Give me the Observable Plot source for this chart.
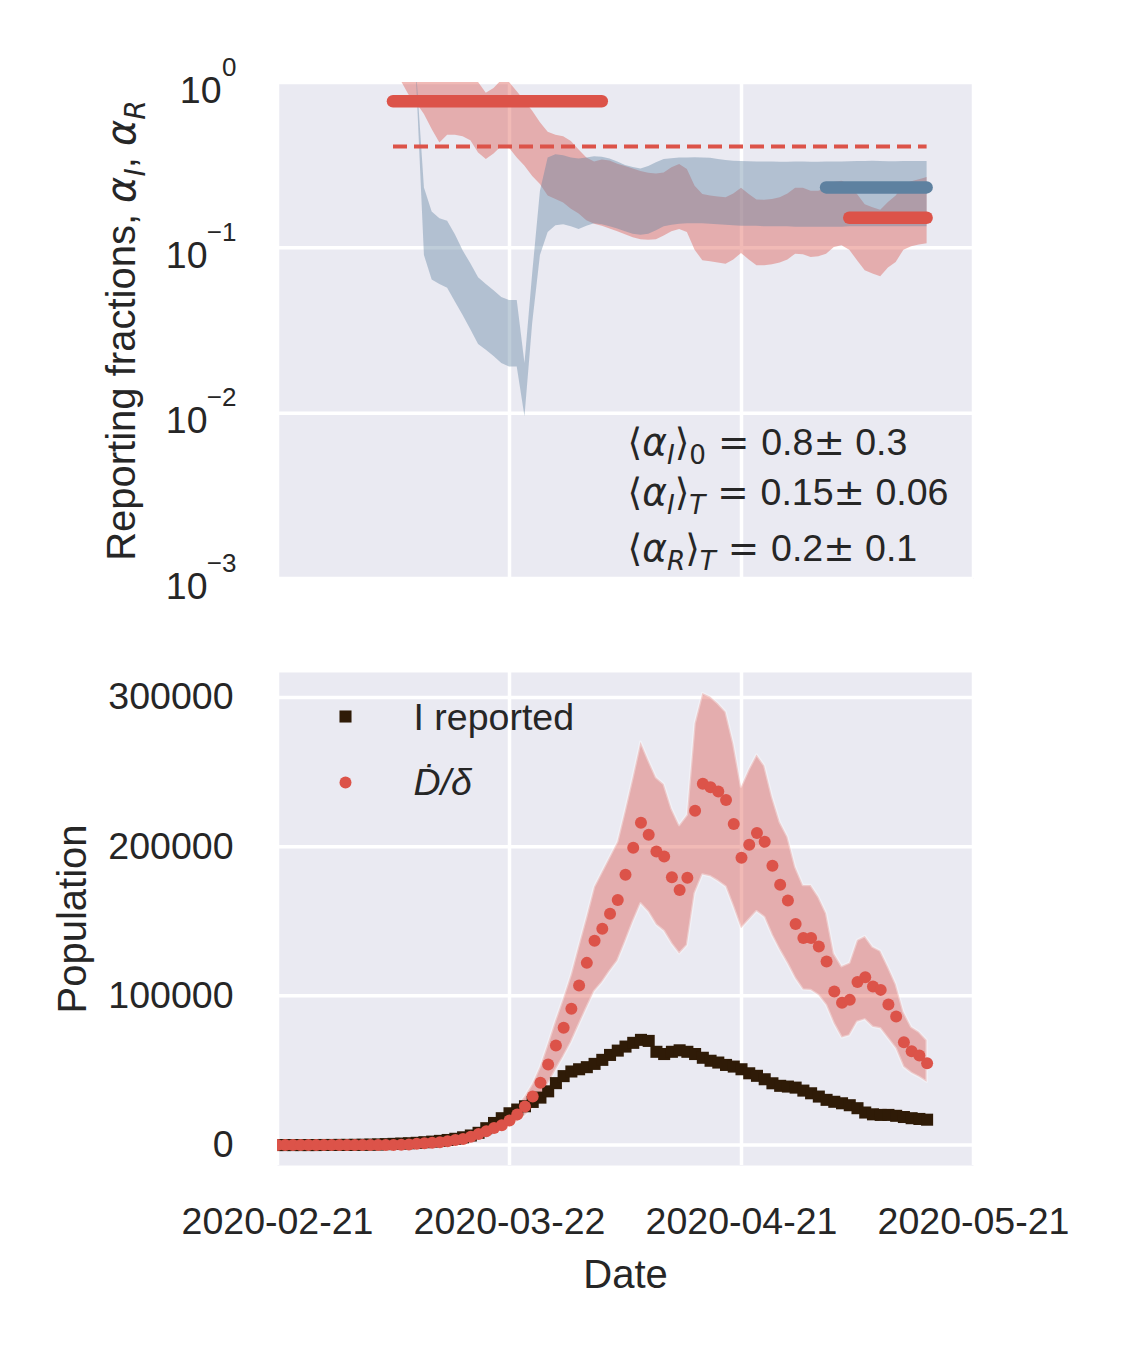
<!DOCTYPE html>
<html><head><meta charset="utf-8">
<script src="https://cdn.jsdelivr.net/npm/d3@7"></script>
<script src="https://cdn.jsdelivr.net/npm/@observablehq/plot@0.6"></script>
<style>
body{margin:0;background:#fff;}
#fig{position:relative;width:1125px;height:1350px;background:#fff;}
#fig svg{position:absolute;left:0;overflow:visible;}
</style></head><body><div id="fig"></div>
<script>
// ---------- data ----------
const startDay = [2020, 1, 21];                 // 2020-02-21 = day 0
const xTickLabels = ["2020-02-21","2020-03-22","2020-04-21","2020-05-21"];
const xDomainDays = [0, 90];

// top panel: reporting fractions (log scale)
const topTicks = [1, 0.1, 0.01, 0.001];
const topTickExponents = ["0", "\u22121", "\u22122", "\u22123"];
const alphaIStart = 16;   // first day of alpha_I band
const alphaI_lo = [1.02,0.84,0.75,0.64,0.52,0.43,0.48,0.48,0.47,0.445,
  0.375,0.342,0.37,0.41,0.40,0.35,0.312,0.27,0.242,0.206,
  0.196,0.187,0.171,0.16,0.146,0.139,0.135,0.13,0.125,0.12,
  0.115,0.112,0.111,0.112,0.118,0.125,0.129,0.124,0.0968,0.0835,
  0.0824,0.081,0.0797,0.0843,0.0925,0.0843,0.078,0.078,0.079,0.081,
  0.0843,0.0916,0.0908,0.0875,0.0883,0.0916,0.1005,0.103,0.0968,0.0835,
  0.0727,0.0694,0.0668,0.0755,0.0816,0.0968,0.1014,0.104,0.106];
const alphaI_hi = [2.6,2.4,2.2,2.0,1.8,1.6,1.55,1.45,1.3,1.15,
  1.0,0.86,0.92,1.03,1.0,0.88,0.77,0.67,0.57,0.50,
  0.48,0.47,0.44,0.39,0.35,0.33,0.34,0.335,0.32,0.31,
  0.30,0.29,0.283,0.28,0.284,0.305,0.319,0.298,0.236,0.21,
  0.206,0.203,0.201,0.212,0.229,0.21,0.195,0.194,0.196,0.201,
  0.212,0.229,0.229,0.22,0.22,0.229,0.248,0.253,0.24,0.21,
  0.182,0.175,0.169,0.188,0.206,0.24,0.251,0.258,0.266];
const alphaRStart = 18;   // first day of alpha_R band
const alphaR_lo = [1.0,0.09,0.064,0.06,0.057,0.047,0.039,0.032,0.026,0.024,
  0.022,0.02,0.019,0.019,0.0095,0.035,0.09,0.124,0.136,0.138,
  0.134,0.129,0.135,0.14,0.138,0.134,0.13,0.125,0.121,0.119,
  0.121,0.127,0.134,0.137,0.139,0.14,0.14,0.14,0.139,0.138,
  0.137,0.136,0.135,0.135,0.135,0.134,0.134,0.134,0.134,0.133,
  0.133,0.133,0.133,0.133,0.133,0.133,0.134,0.134,0.134,0.134,
  0.134,0.134,0.134,0.134,0.134,0.134,0.134];
const alphaR_hi = [1.15,0.23,0.165,0.15,0.145,0.12,0.096,0.08,0.066,0.06,
  0.055,0.05,0.048,0.048,0.02,0.07,0.22,0.35,0.365,0.36,
  0.35,0.345,0.35,0.355,0.353,0.345,0.33,0.315,0.306,0.30,
  0.31,0.327,0.342,0.346,0.35,0.35,0.351,0.35,0.348,0.342,
  0.337,0.334,0.333,0.332,0.331,0.33,0.33,0.329,0.329,0.33,
  0.33,0.329,0.329,0.33,0.33,0.331,0.332,0.333,0.333,0.334,
  0.333,0.332,0.332,0.333,0.333,0.333,0.333];
const meanAlphaI0 = {value: 0.77, from: 15, to: 42};
const meanAlphaIT = {value: 0.152, from: 74, to: 84};
const meanAlphaRT = {value: 0.232, from: 71, to: 84};
const dashedAlphaI = {value: 0.41, from: 15, to: 84};
const annotLines = [
  "\u27E8\u03B1I\u27E90 = 0.8\u00B1 0.3",
  "\u27E8\u03B1I\u27E9T = 0.15\u00B1 0.06",
  "\u27E8\u03B1R\u27E9T = 0.2\u00B1 0.1"];

// bottom panel: population, days 0..84
const popTicks = [0, 100000, 200000, 300000];
const iReported = [0,0,0,0,0,0,
  50,50,100,100,150,200,
  300,400,600,800,1000,1200,
  1500,1900,2300,2800,3400,4200,
  5200,6400,8200,11300,14800,18000,
  21300,23800,26000,28900,31800,36000,
  41500,46200,49300,50800,52200,54400,
  57100,60400,63300,66000,68500,70500,
  69800,62500,61000,62500,63500,62500,
  61000,58500,56500,55300,53700,52600,
  50800,48100,46400,44100,41400,39700,
  39200,38500,36500,34700,32500,30300,
  29000,28000,26700,24700,21800,20600,
  20200,20200,19600,18800,18000,17500,
  17000];
const dDotOverDelta = [0,0,0,0,0,0,
  0,0,0,0,0,0,
  0,0,0,100,200,400,
  800,1200,1500,1900,2600,3400,
  4100,5600,7400,9300,11500,13200,
  16500,20500,25800,32600,41800,54000,
  66700,78600,91300,106900,122100,136900,
  144900,155000,164300,181200,199200,216000,
  208000,196700,193400,179500,171000,179100,
  224100,242100,239800,236900,231300,215200,
  192500,201300,209200,203200,187200,174500,
  163900,148200,138800,138800,133000,123000,
  102900,95300,97300,109200,112500,106200,
  104000,94200,86100,68900,62900,60000,
  54800];
const dBandUpper = [0,0,0,0,0,0,
  0,0,0,0,0,0,
  0,0,0,130,250,500,
  1000,1500,1900,2400,3200,4300,
  5100,7000,9200,11600,14400,16500,
  20600,25600,32300,40800,52300,67500,
  83400,98300,114100,133600,152600,172800,
  182900,192900,203000,224200,246500,270000,
  257700,246100,241600,225300,214100,221000,
  282300,302600,300200,295700,290100,268800,
  240000,251500,261400,254000,233100,216300,
  206300,186200,173900,173900,166100,155000,
  128200,119600,121900,137100,139700,132600,
  129900,119200,107600,89000,79000,75600,
  70000];
const dBandLower = [0,0,0,0,0,0,
  0,0,0,0,0,0,
  0,0,0,75,150,300,
  600,900,1100,1400,1950,2550,
  3100,4200,5500,7000,8600,9900,
  12400,15400,19400,24500,31400,40500,
  50000,59000,68500,80200,91600,102700,
  108700,116300,123200,135900,149400,161600,
  156000,147500,143300,134800,128100,133700,
  168400,181000,179800,176700,173000,159400,
  144900,150700,156400,152500,140400,130400,
  121400,111400,104000,103600,100200,93500,
  81200,71800,73200,82300,83900,79000,
  77900,71200,64500,52200,48100,45400,
  42100];
const legendLabels = ["I reported", "\u1E0A/\u03B4"];

// ---------- helpers ----------
const day0 = Date.UTC(startDay[0], startDay[1], startDay[2]);
const dateOf = d => new Date(day0 + d * 864e5);
const xTicks = xTickLabels.map(s => new Date(s + "T00:00:00Z"));
const fmt = d3.utcFormat("%Y-%m-%d");

const RED = "#dc5349", BLUE = "#5e81a0", DARK = "#2f1b07", INK = "#262626", BG = "#eaeaf2";
const FONT = "'Liberation Sans', Arial, 'DejaVu Sans', sans-serif";
const MATH = "'DejaVu Sans', sans-serif";
const TICK = 37.5, LABEL = 40;

const redBand = alphaI_lo.map((lo, i) => ({date: dateOf(alphaIStart + i), lo, hi: alphaI_hi[i]}));
const blueBand = alphaR_lo.map((lo, i) => ({date: dateOf(alphaRStart + i), lo, hi: alphaR_hi[i]}));
const pop = iReported.map((v, i) => ({date: dateOf(i), rep: v, dd: dDotOverDelta[i], lo: dBandLower[i], hi: dBandUpper[i]}));
const topTickRows = topTicks.map((v, i) => ({v, e: topTickExponents[i]}));

const x1 = d => dateOf(d.from), x2 = d => dateOf(d.to);
const grid = {stroke: "white", strokeOpacity: 1, strokeWidth: 3.5};

// ---------- top panel ----------
const topPlot = Plot.plot({
  width: 1125, height: 600,
  marginLeft: 277, marginRight: 152, marginTop: 82, marginBottom: 22,
  style: {fontFamily: FONT, color: INK, background: "transparent", overflow: "visible"},
  x: {type: "utc", domain: xDomainDays.map(dateOf), axis: null},
  y: {type: "log", domain: [1e-3, 1], axis: null},
  marks: [
    Plot.frame({fill: BG, stroke: "none"}),
    Plot.gridY(topTicks, grid),
    Plot.gridX(xTicks, grid),
    Plot.areaY(redBand, {x: "date", y1: "lo", y2: "hi", fill: RED, fillOpacity: 0.4, clip: true}),
    Plot.areaY(blueBand, {x: "date", y1: "lo", y2: "hi", fill: BLUE, fillOpacity: 0.4, clip: true}),
    Plot.ruleY([dashedAlphaI], {y: "value", x1, x2, stroke: RED, strokeWidth: 4, strokeDasharray: "14,7"}),
    Plot.ruleY([meanAlphaI0], {y: "value", x1, x2, stroke: RED, strokeWidth: 12.5, strokeLinecap: "round"}),
    Plot.ruleY([meanAlphaRT], {y: "value", x1, x2, stroke: BLUE, strokeWidth: 12.5, strokeLinecap: "round"}),
    Plot.ruleY([meanAlphaIT], {y: "value", x1, x2, stroke: RED, strokeWidth: 12.5, strokeLinecap: "round"}),
    // tick labels 10^k
    Plot.text(topTickRows.filter(d => d.e === "0"), {y: "v", text: () => "10", frameAnchor: "left", dx: -56, dy: 8, textAnchor: "end", lineAnchor: "middle", fontSize: TICK, fill: INK}),
    Plot.text(topTickRows.filter(d => d.e !== "0"), {y: "v", text: () => "10", frameAnchor: "left", dx: -70, dy: 8, textAnchor: "end", lineAnchor: "middle", fontSize: TICK, fill: INK}),
    Plot.text(topTickRows, {y: "v", text: "e", frameAnchor: "left", dx: -41, dy: -15, textAnchor: "end", lineAnchor: "middle", fontSize: 26, fill: INK}),
    // y label
    Plot.text(["Reporting fractions, \u03B1I, \u03B1R"], {text: d => d, frameAnchor: "left", dx: -155, rotate: -90, textAnchor: "middle", lineAnchor: "middle", fontSize: LABEL, fill: INK}),
    // annotation
    Plot.text([annotLines[0]], {text: d => d, frameAnchor: "top-left", dx: 350, dy: 360, textAnchor: "start", lineAnchor: "middle", fontSize: TICK, fill: INK}),
    Plot.text([annotLines[1]], {text: d => d, frameAnchor: "top-left", dx: 350, dy: 410, textAnchor: "start", lineAnchor: "middle", fontSize: TICK, fill: INK}),
    Plot.text([annotLines[2]], {text: d => d, frameAnchor: "top-left", dx: 350, dy: 466, textAnchor: "start", lineAnchor: "middle", fontSize: TICK, fill: INK})
  ]
});
topPlot.style.top = "0px";

// ---------- bottom panel ----------
const bottomPlot = Plot.plot({
  width: 1125, height: 750,
  marginLeft: 277, marginRight: 152, marginTop: 72, marginBottom: 185,
  style: {fontFamily: FONT, color: INK, background: "transparent", overflow: "visible"},
  x: {type: "utc", domain: xDomainDays.map(dateOf)},
  y: {domain: [-13700, 316700]},
  marks: [
    Plot.frame({fill: BG, stroke: "none"}),
    Plot.gridY(popTicks, grid),
    Plot.gridX(xTicks, grid),
    Plot.areaY(pop, {x: "date", y1: "lo", y2: "hi", fill: RED, fillOpacity: 0.4, stroke: "white", strokeOpacity: 0.35, strokeWidth: 2.5, clip: true}),
    Plot.dot(pop, {x: "date", y: "rep", symbol: "square", r: 6.8, fill: DARK, stroke: "none", clip: true}),
    Plot.dot(pop, {x: "date", y: "dd", r: 6, fill: RED, stroke: "none", clip: true}),
    Plot.axisY({ticks: popTicks, tickFormat: d => String(d), tickSize: 0, tickPadding: 44, fontSize: TICK, label: null, fill: INK}),
    Plot.axisX({ticks: xTicks, tickFormat: fmt, tickSize: 0, tickPadding: 42, fontSize: TICK, label: null, fill: INK}),
    Plot.text(["Population"], {text: d => d, frameAnchor: "left", dx: -204, rotate: -90, textAnchor: "middle", lineAnchor: "middle", fontSize: LABEL, fill: INK}),
    Plot.text(["Date"], {text: d => d, frameAnchor: "bottom", dy: 110, textAnchor: "middle", lineAnchor: "middle", fontSize: LABEL, fill: INK}),
    // legend
    Plot.dot([legendLabels[0]], {frameAnchor: "top-left", dx: 68, dy: 44, symbol: "square", r: 6.8, fill: DARK, stroke: "none"}),
    Plot.dot([legendLabels[1]], {frameAnchor: "top-left", dx: 68, dy: 110, r: 6, fill: RED, stroke: "none"}),
    Plot.text([legendLabels[0]], {text: d => d, frameAnchor: "top-left", dx: 136, dy: 45, textAnchor: "start", lineAnchor: "middle", fontSize: TICK, fill: INK}),
    Plot.text([legendLabels[1]], {text: d => d, frameAnchor: "top-left", dx: 136, dy: 110, textAnchor: "start", lineAnchor: "middle", fontSize: TICK, fontStyle: "italic", fill: INK})
  ]
});
bottomPlot.style.top = "600px";

const fig = document.getElementById("fig");
fig.appendChild(topPlot);
fig.appendChild(bottomPlot);

// ---------- rich text (italic / subscripts / math font) ----------
function rich(svg, plain, parts, fs) {
  for (const t of svg.querySelectorAll("text")) {
    if (t.textContent !== plain) continue;
    while (t.firstChild) t.removeChild(t.firstChild);
    let shift = 0;
    for (const p of parts) {
      const ts = document.createElementNS("http://www.w3.org/2000/svg", "tspan");
      const target = p.sub ? fs * 0.25 : 0;
      if (target !== shift) { ts.setAttribute("dy", target - shift); shift = target; }
      if (p.sub) ts.setAttribute("font-size", fs * 0.7);
      if (p.it) ts.setAttribute("font-style", "italic");
      if (p.m) ts.setAttribute("font-family", MATH);
      ts.textContent = p.t;
      t.appendChild(ts);
    }
  }
}
rich(topPlot, "Reporting fractions, \u03B1I, \u03B1R", [
  {t: "Reporting fractions, "}, {t: "\u03B1", it: 1, m: 1}, {t: "I", it: 1, sub: 1, m: 1},
  {t: ", "}, {t: "\u03B1", it: 1, m: 1}, {t: "R", it: 1, sub: 1, m: 1}], LABEL);
const mathHead = (s1, s2) => [{t: "\u27E8", m: 1}, {t: "\u03B1", it: 1, m: 1}, {t: s1, it: 1, sub: 1, m: 1},
  {t: "\u27E9", m: 1}, {t: s2, it: s2 !== "0", sub: 1, m: 1}, {t: " = ", m: 1}];
rich(topPlot, annotLines[0], [...mathHead("I", "0"), {t: "0.8"}, {t: "\u00B1", m: 1}, {t: " 0.3"}], TICK);
rich(topPlot, annotLines[1], [...mathHead("I", "T"), {t: "0.15"}, {t: "\u00B1", m: 1}, {t: " 0.06"}], TICK);
rich(topPlot, annotLines[2], [...mathHead("R", "T"), {t: "0.2"}, {t: "\u00B1", m: 1}, {t: " 0.1"}], TICK);
</script>
</body></html>
